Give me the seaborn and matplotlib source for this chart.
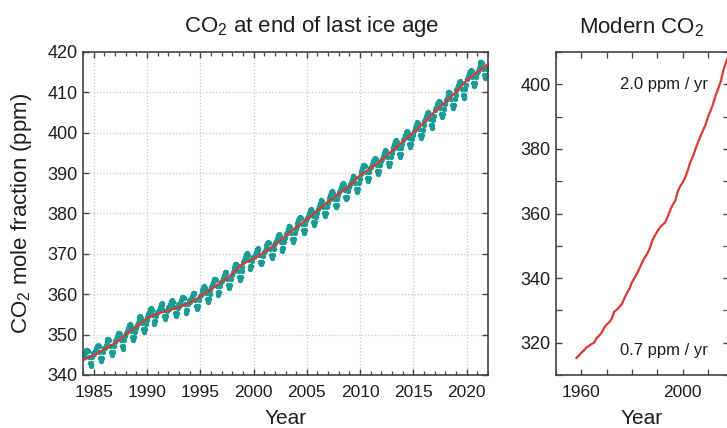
import numpy as np
import pandas as pd
import matplotlib
matplotlib.use("Agg")
import matplotlib.pyplot as plt
import seaborn as sns
from matplotlib.ticker import MultipleLocator

# ---------------- data ----------------
# Left panel: smoothed trend (red line), value at 1 January of each year
trend_years = list(range(1984, 2023))
trend_ppm = [343.7, 344.9, 346.4, 347.9, 350.0, 352.0, 354.0, 355.2, 356.0, 356.8,
             357.8, 359.4, 361.3, 363.0, 365.0, 367.6, 368.8, 370.4, 372.2, 374.4,
             376.6, 378.5, 380.8, 382.9, 384.9, 386.8, 389.5, 391.2, 393.2, 395.5,
             397.8, 400.1, 402.5, 405.3, 407.6, 410.1, 413.0, 415.0, 417.0]
# Monthly measurements: departure from that year's 1 January trend value (Jan..Dec)
month_offset = [0.4, 1.0, 1.7, 2.4, 2.6, 2.2, 0.8, -0.7, -1.4, -0.7, 0.7, 1.7]

# Right panel: annual means
modern_years = list(range(1958, 2019))
modern_ppm = [315.2, 316.0, 316.9, 317.6, 318.5, 319.0, 319.6, 320.0, 321.4, 322.2,
              323.1, 324.6, 325.7, 326.3, 327.5, 329.7, 330.2, 331.1, 332.0, 333.8,
              335.4, 336.8, 338.8, 340.1, 341.5, 343.2, 344.9, 346.4, 347.6, 349.3,
              351.7, 353.2, 354.5, 355.7, 356.5, 357.2, 359.0, 361.0, 362.7, 363.9,
              366.8, 368.5, 369.7, 371.3, 373.5, 376.0, 377.7, 380.0, 382.1, 384.0,
              385.8, 387.6, 390.1, 391.9, 394.1, 396.7, 398.8, 401.0, 404.4, 406.8,
              408.7]

rate_labels = ["2.0 ppm / yr", "0.7 ppm / yr"]
rate_pos = [(2010, 400), (2010, 317.5)]

# ---------------- tables ----------------
trend_df = pd.DataFrame({"year": trend_years, "ppm": trend_ppm})
tr = np.array(trend_ppm)[:-1]
monthly_df = pd.DataFrame({
    "time": (np.array(trend_years[:-1])[:, None] + (np.arange(12)[None, :] + 0.5) / 12).ravel(),
    "ppm": (tr[:, None] + np.array(month_offset)[None, :]).ravel(),
})
modern_df = pd.DataFrame({"year": modern_years, "ppm": modern_ppm})

# ---------------- style ----------------
sns.set_theme(style="ticks")
plt.rcParams["font.family"] = ["Liberation Sans", "DejaVu Sans"]
plt.rcParams["mathtext.fontset"] = "custom"
plt.rcParams["mathtext.rm"] = "Liberation Sans"
plt.rcParams["mathtext.it"] = "Liberation Sans:italic"
plt.rcParams["mathtext.default"] = "rm"
plt.rcParams["axes.edgecolor"] = "#444444"
plt.rcParams["axes.linewidth"] = 1.2

TEAL = "#1a9b94"
RED = "#d63c36"
TXT = "#1e1e1e"

W, H = 727, 428
fig = plt.figure(figsize=(W / 100, H / 100), dpi=100)
fig.patch.set_facecolor("white")

def px(x0, y0, x1, y1):
    return [x0 / W, 1 - y1 / H, (x1 - x0) / W, (y1 - y0) / H]

ax1 = fig.add_axes(px(83, 52, 488, 375))
ax2 = fig.add_axes(px(556, 52, 728.5, 375))

# ---- left panel ----
sns.scatterplot(data=monthly_df, x="time", y="ppm", ax=ax1, color=TEAL, s=15,
                linewidth=0, zorder=2, legend=False)
sns.lineplot(data=trend_df, x="year", y="ppm", ax=ax1, color=RED, linewidth=1.6,
             zorder=3, legend=False)
ax1.set_xlim(1984, 2022)
ax1.set_ylim(340, 420)
ax1.xaxis.set_major_locator(MultipleLocator(5))
ax1.xaxis.set_minor_locator(MultipleLocator(1))
ax1.yaxis.set_major_locator(MultipleLocator(10))
ax1.grid(True, which="major", color="#c9c9c9", linestyle=":", linewidth=0.9)
ax1.set_axisbelow(True)
ax1.set_xlabel("")
ax1.set_ylabel("")

# ---- right panel ----
sns.lineplot(data=modern_df, x="year", y="ppm", ax=ax2, color=RED, linewidth=1.6,
             legend=False)
ax2.set_xlim(1950, 2018)
ax2.set_ylim(310, 410)
ax2.xaxis.set_major_locator(MultipleLocator(40))
ax2.xaxis.set_minor_locator(MultipleLocator(10))
ax2.yaxis.set_major_locator(MultipleLocator(20))
ax2.yaxis.set_minor_locator(MultipleLocator(10))
ax2.set_xlabel("")
ax2.set_ylabel("")
for txt, (x, y) in zip(rate_labels, rate_pos):
    ax2.text(x, y, txt, ha="right", va="center", fontsize=12, color=TXT)

for ax in (ax1, ax2):
    ax.set_facecolor("white")
    ax.tick_params(which="both", direction="in", top=True, right=True,
                   color="#444444", labelcolor=TXT)
    ax.tick_params(which="major", length=4.5, width=1.0)
    ax.tick_params(which="minor", length=2.8, width=0.9)
    ax.tick_params(axis="x", pad=7, labelsize=12.5)
    ax.tick_params(axis="y", pad=4, labelsize=13)
ax2.tick_params(which="minor", length=4.5)

# ---- texts ----
fig.text(312 / W, 1 - 32 / H, "CO$_2$ at end of last ice age", ha="center",
         va="baseline", fontsize=16, color=TXT)
fig.text(642 / W, 1 - 33 / H, "Modern CO$_2$", ha="center", va="baseline",
         fontsize=16, color=TXT)
fig.text(22 / W, 1 - 213 / H, "CO$_2$ mole fraction (ppm)", ha="center",
         va="center", rotation=90, fontsize=16, color=TXT)
fig.text(285.5 / W, 1 - 424 / H, "Year", ha="center", va="baseline",
         fontsize=15, color=TXT)
fig.text(642 / W, 1 - 424 / H, "Year", ha="center", va="baseline",
         fontsize=15, color=TXT)

fig.savefig("out.png", dpi=100)
